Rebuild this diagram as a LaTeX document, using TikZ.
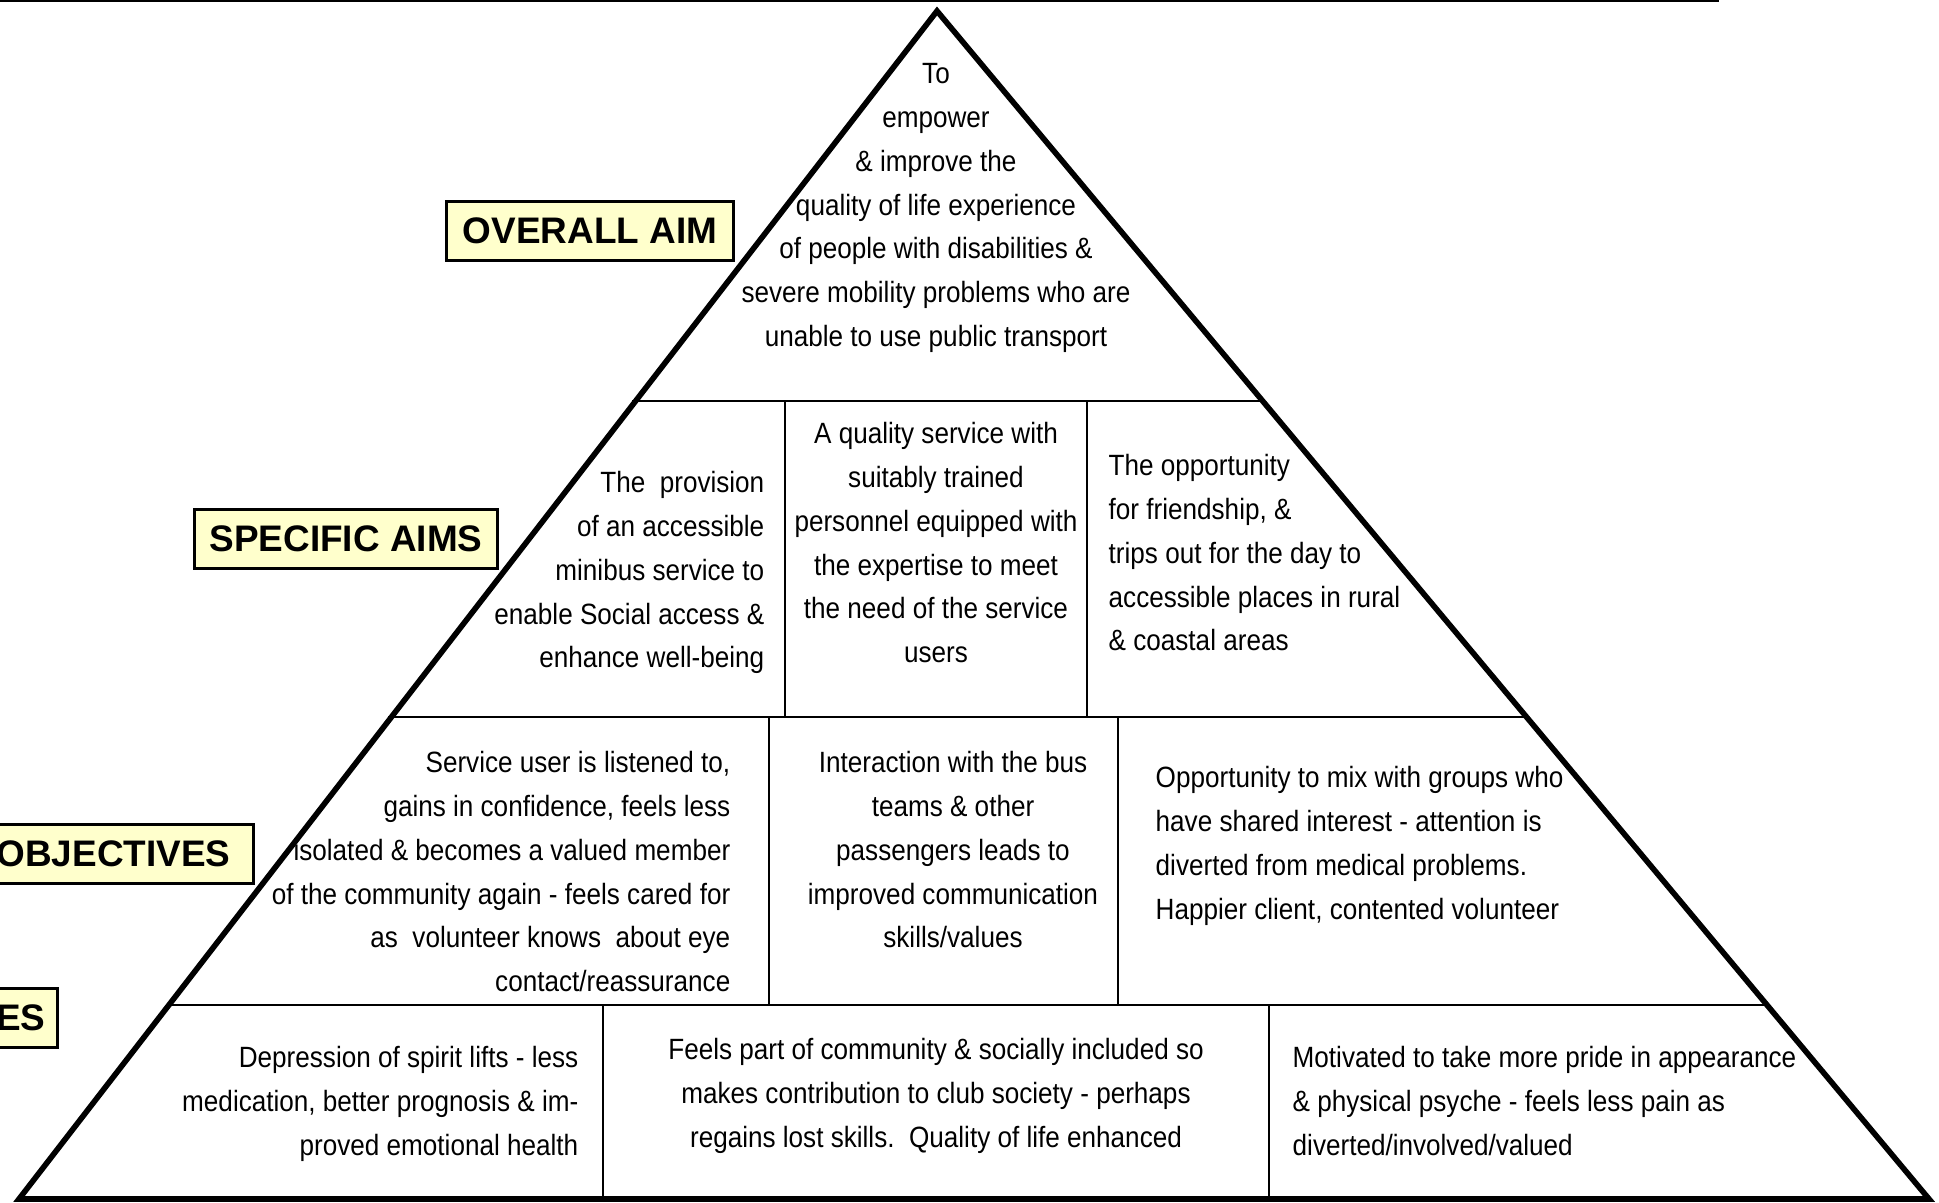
\documentclass[tikz,border=0pt]{standalone}
\usepackage{fontspec}
\setmainfont{Liberation Sans}
\newfontfamily\bodyfont[FakeStretch=0.89]{Liberation Sans}
\definecolor{labelfill}{HTML}{FFFFCC}

\begin{document}
\begin{tikzpicture}[x=0.01cm, y=-0.01cm,
    cell/.style={font=\bodyfont\fontsize{8.34}{12.43}\selectfont, inner sep=0pt},
    levelbox/.style={draw=black, line width=0.85pt, fill=labelfill,
        font=\bfseries\fontsize{10.5}{12}\selectfont,
        minimum height=0.59cm, inner sep=0pt}]

    \useasboundingbox (0,0) rectangle (1939,1203);

    % Step 1: rule along the top of the page
    \draw[line width=0.55pt] (0,1) -- (1719,1);

    % Step 2: the pyramid
    \draw[line width=1.6pt] (19,1199) -- (937,11) -- (1929,1199) -- cycle;

    % Step 3: the rows
    \draw[line width=0.55pt] (632,401) -- (1264,401);
    \draw[line width=0.55pt] (388,717) -- (1529,717);
    \draw[line width=0.55pt] (166,1005) -- (1768,1005);

    % Step 4: the cells in each row
    \draw[line width=0.55pt] (785,401) -- (785,717);
    \draw[line width=0.55pt] (1087,401) -- (1087,717);
    \draw[line width=0.55pt] (769,717) -- (769,1005);
    \draw[line width=0.55pt] (1118,717) -- (1118,1005);
    \draw[line width=0.55pt] (603,1005) -- (603,1199);
    \draw[line width=0.55pt] (1269,1005) -- (1269,1199);

    % Top: overall aim
    \node[cell, anchor=north, align=center] (aim) at (936,63)
        {To\\empower\\\& improve the\\quality of life experience\\of people with disabilities \&\\severe mobility problems who are\\unable to use public transport};

    % Second row: specific aims
    \node[cell, anchor=north east, align=right] (aimleft) at (765,471)
        {The\ \ provision\\of an accessible\\minibus service to\\enable Social access \&\\enhance well-being};
    \node[cell, anchor=north, align=center] (aimmid) at (936,422)
        {A quality service with\\suitably trained\\personnel equipped with\\the expertise to meet\\the need of the service\\users};
    \node[cell, anchor=north west, align=left] (aimright) at (1108,454)
        {The opportunity\\for friendship, \&\\trips out for the day to\\accessible places in rural\\\& coastal areas};

    % Third row: objectives
    \node[cell, anchor=north east, align=right] (objleft) at (731,751)
        {Service user is listened to,\\gains in confidence, feels less\\isolated \& becomes a valued member\\of the community again - feels cared for\\as\ \ volunteer knows\ \ about eye\\contact/reassurance};
    \node[cell, anchor=north, align=center] (objmid) at (953,751)
        {Interaction with the bus\\teams \& other\\passengers leads to\\improved communication\\skills/values};
    \node[cell, anchor=north west, align=left] (objright) at (1155,766)
        {Opportunity to mix with groups who\\have shared interest - attention is\\diverted from medical problems.\\Happier client, contented volunteer};

    % Bottom row
    \node[cell, anchor=north east, align=right] (outleft) at (579,1046)
        {Depression of spirit lifts - less\\medication, better prognosis \& im-\\proved emotional health};
    \node[cell, anchor=north, align=center] (outmid) at (936,1038)
        {Feels part of community \& socially included so\\makes contribution to club society - perhaps\\regains lost skills.\ \ Quality of life enhanced};
    \node[cell, anchor=north west, align=left] (outright) at (1292,1046)
        {Motivated to take more pride in appearance\\\& physical psyche - feels less pain as\\diverted/involved/valued};

    % Level labels on the left
    \node[levelbox, minimum width=2.87cm] (lbloverall) at (590,231) {OVERALL AIM};
    \node[levelbox, minimum width=3.02cm] (lblspecific) at (346,539) {SPECIFIC AIMS};
    \node[levelbox, anchor=east, text width=2.6cm, align=right, inner xsep=0.23cm] (lblobjectives) at (255,854) {OBJECTIVES};
    \node[levelbox, anchor=east, text width=1.5cm, align=right, inner xsep=0.12cm] (lblbottom) at (59,1018) {ES};

\end{tikzpicture}
\end{document}
